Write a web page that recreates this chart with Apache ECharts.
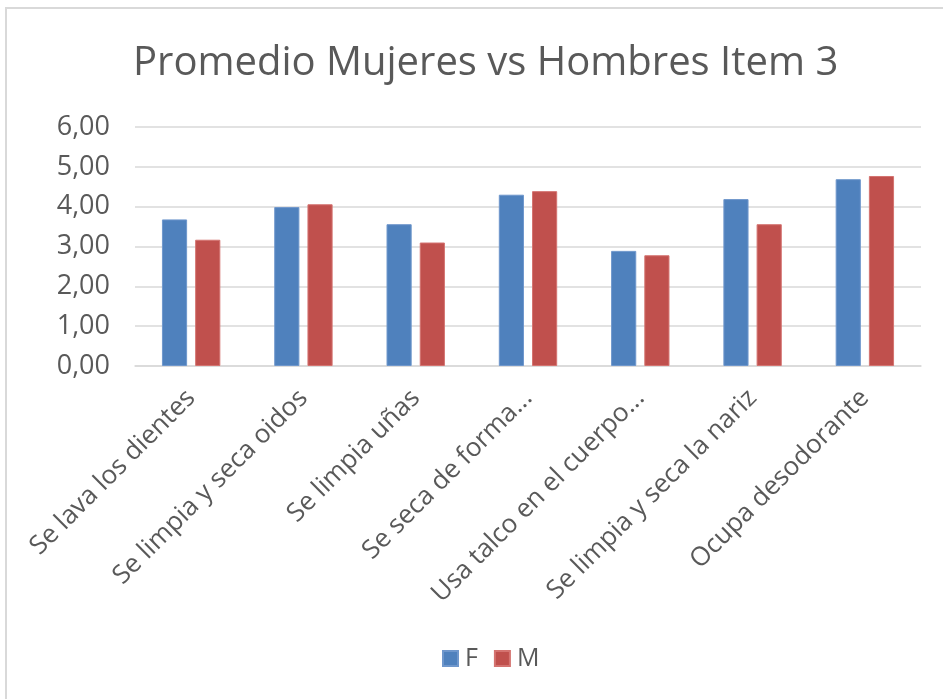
<!DOCTYPE html>
<html>
<head>
<meta charset="utf-8">
<script src="https://cdn.jsdelivr.net/npm/echarts@6/dist/echarts.min.js"></script>
<style>
  html, body { margin: 0; padding: 0; background: #fff; }
  #chart { width: 943px; height: 699px; }
</style>
</head>
<body>
<div id="chart"></div>
<script>
// categories as shown on the chart (Excel truncated two of them)
const categories = [
  'Se lava los dientes',
  'Se limpia y seca oidos',
  'Se limpia uñas',
  'Se seca de forma...',
  'Usa talco en el cuerpo...',
  'Se limpia y seca la nariz',
  'Ocupa desodorante'
];
const valuesF = [3.68, 3.99, 3.56, 4.30, 2.89, 4.19, 4.69];
const valuesM = [3.17, 4.06, 3.10, 4.39, 2.78, 3.56, 4.77];
const yTicks = { min: 0, max: 6, interval: 1 };

const textColor = '#595959';
const font = 'Open Sans';

const chart = echarts.init(document.getElementById('chart'));

const option = {
  backgroundColor: '#fff',
  animation: false,
  graphic: [{
    type: 'rect',
    shape: { x: 6, y: 8, width: 1000, height: 1000 },
    style: { fill: 'none', stroke: '#d9d9d9', lineWidth: 2 }
  }],
  title: {
    text: 'Promedio Mujeres vs Hombres Item 3',
    left: 128,
    top: 39,
    textStyle: { color: textColor, fontFamily: font, fontSize: 40, fontWeight: 'normal' }
  },
  legend: {
    bottom: 23,
    left: 437,
    itemWidth: 15,
    itemHeight: 15,
    itemGap: 16,
    icon: 'rect',
    textStyle: { color: textColor, fontFamily: font, fontSize: 25, padding: [0, 0, 0, 2] },
    data: ['F', 'M']
  },
  grid: { left: 135, right: 22, top: 127, bottom: 333, containLabel: false },
  xAxis: {
    type: 'category',
    data: categories,
    axisLine: { lineStyle: { color: '#d9d9d9', width: 1.5 } },
    axisTick: { show: false },
    axisLabel: {
      rotate: 45,
      interval: 0,
      margin: 28,
      color: textColor,
      fontFamily: font,
      fontSize: 26
    }
  },
  yAxis: {
    type: 'value',
    min: yTicks.min,
    max: yTicks.max,
    interval: yTicks.interval,
    axisLine: { show: false },
    axisTick: { show: false },
    splitLine: { lineStyle: { color: '#d9d9d9', width: 1.5 } },
    axisLabel: {
      margin: 25,
      color: textColor,
      fontFamily: font,
      fontSize: 27,
      formatter: v => v.toFixed(2).replace('.', ',')
    }
  },
  series: [
    {
      name: 'F',
      type: 'bar',
      data: valuesF,
      barGap: '32%',
      barCategoryGap: '48%',
      itemStyle: { color: '#4f81bd', borderColor: '#6f97cc', borderWidth: 1 }
    },
    {
      name: 'M',
      type: 'bar',
      data: valuesM,
      itemStyle: { color: '#c0504d', borderColor: '#d47370', borderWidth: 1 }
    }
  ]
};

chart.setOption(option);
</script>
</body>
</html>
